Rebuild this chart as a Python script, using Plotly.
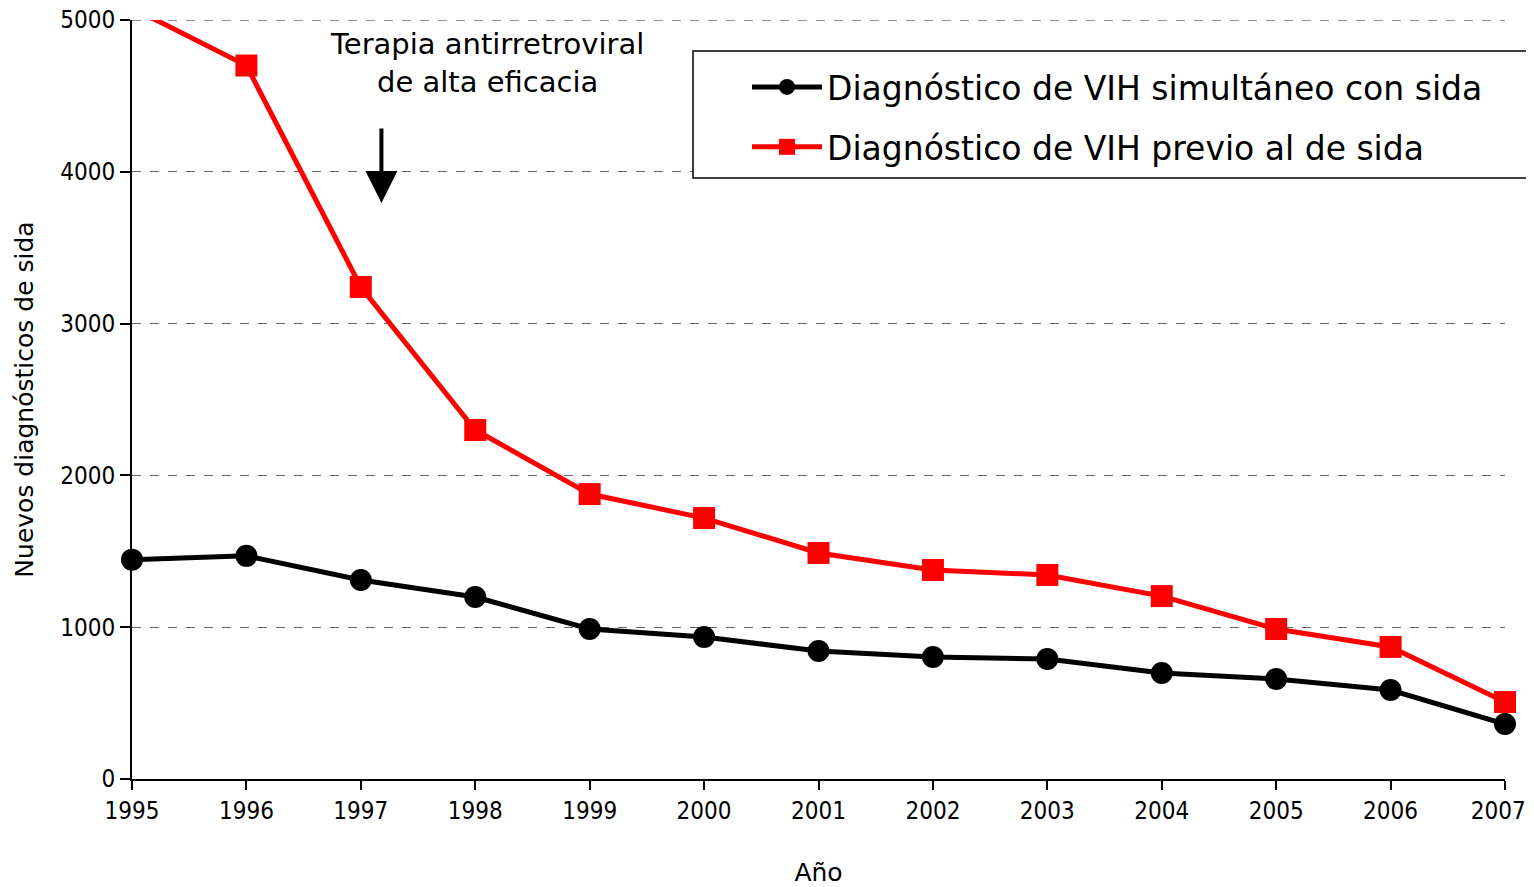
import plotly.graph_objects as go

years = [1995, 1996, 1997, 1998, 1999, 2000, 2001, 2002, 2003, 2004, 2005, 2006, 2007]
simultaneo = [1445, 1470, 1311, 1199, 988, 935, 843, 804, 790, 698, 659, 586, 362]
previo = [5080, 4700, 3241, 2299, 1877, 1719, 1489, 1377, 1344, 1205, 988, 870, 507]
y_ticks = [0, 1000, 2000, 3000, 4000, 5000]
x_ticktext = [str(y) for y in years]
x_ticktext[-1] = x_ticktext[-1] + "\u2007"  # keep the last label inside the visible page

name_sim = "Diagnóstico de VIH simultáneo con sida"
name_prev = "Diagnóstico de VIH previo al de sida"
annot_text = "Terapia antirretroviral<br>de alta eficacia"

FONT_C = "'DejaVu Sans Condensed', 'DejaVu Sans', sans-serif"
FONT = "'DejaVu Sans', sans-serif"

# page has an 8px body margin; plot area in page pixels
OFF = 8
W, H = 1534, 887
L, R, T, B = 132, 1505, 20, 779
def px_x(p):
    return (p - L) / (R - L)
def px_y(p):
    return (B - p) / (B - T)

fig = go.Figure()
fig.add_trace(go.Scatter(
    x=years, y=simultaneo, name=name_sim, mode="lines+markers", legendgroup="a",
    line=dict(color="#000000", width=5),
    marker=dict(symbol="circle", size=22, color="#000000", opacity=1, line=dict(width=0)),
    cliponaxis=False,
))
prev_sizes = [0] + [22] * (len(previo) - 1)
fig.add_trace(go.Scatter(
    x=years, y=previo, name=name_prev, mode="lines+markers", legendgroup="b",
    line=dict(color="#FF0000", width=5),
    marker=dict(symbol="square", size=prev_sizes, color="#FF0000", opacity=1,
                line=dict(width=0, color="#FF0000")),
    cliponaxis=False,
))

fig.add_annotation(
    x=1997.18, y=3794, ax=1997.18, ay=4295, xref="x", yref="y", axref="x", ayref="y",
    text="", showarrow=True, arrowhead=2, arrowsize=1.6, arrowwidth=4, arrowcolor="#000000",
)
fig.add_annotation(
    x=1998.1, y=4714, xref="x", yref="y", text=annot_text, showarrow=False,
    font=dict(family=FONT, size=29, color="#000000"), align="center",
    yanchor="middle", xanchor="center",
)

# top gridline (at the axis end)
fig.add_shape(
    type="line", xref="paper", yref="y", x0=0, x1=1, y0=y_ticks[-1], y1=y_ticks[-1],
    line=dict(color="#222222", width=1, dash="dash"), layer="below",
)

# legend frame
fig.add_shape(
    type="rect", xref="paper", yref="paper",
    x0=px_x(693), x1=px_x(1545), y0=px_y(178), y1=px_y(51),
    line=dict(color="#000000", width=1.5), fillcolor="white", layer="above",
)

FIG_H = H - OFF
fig.update_layout(
    width=W - OFF, height=FIG_H,
    margin=dict(l=L - OFF, r=W - R, t=T - OFF, b=FIG_H - (B - OFF)),
    paper_bgcolor="white", plot_bgcolor="white",
    font=dict(family=FONT_C, size=24, color="#000000"),
    showlegend=True,
    legend=dict(
        x=px_x(747), y=px_y(59), xanchor="left", yanchor="top",
        bgcolor="rgba(0,0,0,0)", borderwidth=0,
        font=dict(family=FONT, size=33, color="#000000"),
        itemwidth=70, tracegroupgap=14,
    ),
    xaxis=dict(
        range=[1995, 2007], tickmode="array", tickvals=years, ticktext=x_ticktext,
        ticks="outside", ticklen=9, tickwidth=2, tickcolor="#000000",
        showline=True, linecolor="#000000", linewidth=2,
        showgrid=False, zeroline=False, automargin=False,
        ticklabeloverflow="allow",
        tickfont=dict(family=FONT_C, size=24),
        title=dict(text="Año", standoff=45, font=dict(family=FONT, size=25)),
    ),
    yaxis=dict(
        range=[0, 5000], tickmode="array", tickvals=y_ticks,
        ticks="outside", ticklen=10, tickwidth=2, tickcolor="#000000",
        showline=True, linecolor="#000000", linewidth=2,
        showgrid=True, gridcolor="#666666", gridwidth=1, griddash="dash",
        zeroline=False, automargin=False,
        ticklabeloverflow="allow",
        tickfont=dict(family=FONT_C, size=24),
        title=dict(text="Nuevos diagnósticos de sida", standoff=20, font=dict(family=FONT, size=25)),
    ),
)

fig.write_html("out.html")
